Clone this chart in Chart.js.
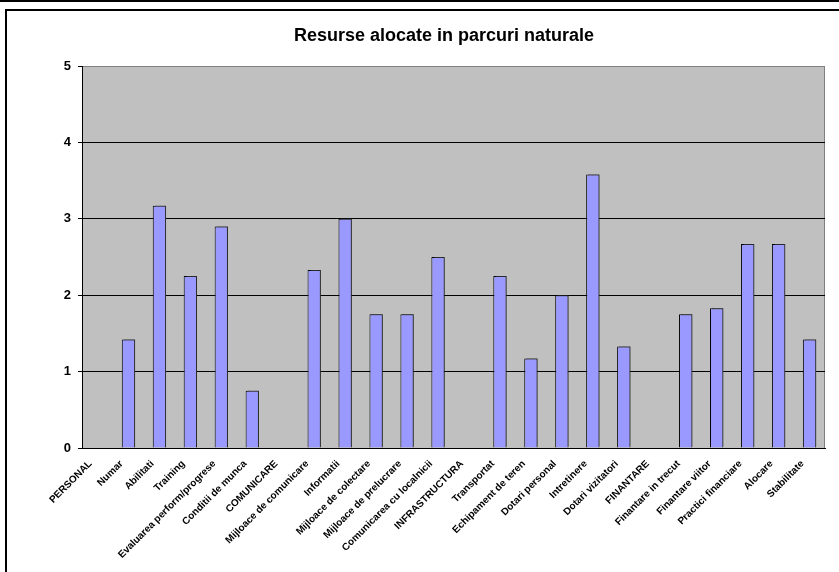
<!DOCTYPE html>
<html>
<head>
<meta charset="utf-8">
<script src="https://cdn.jsdelivr.net/npm/chart.js@4/dist/chart.umd.min.js"></script>
<style>
  html, body { margin: 0; padding: 0; overflow: hidden; background: #fff; }
  #topline { position: absolute; left: 0; top: 0; width: 839px; height: 0; border-top: 2px solid #000; }
  #box { position: absolute; left: 5px; top: 9px; width: 900px; height: 600px; border: 2px solid #000; box-sizing: border-box; }
  #wrap { position: absolute; left: 0; top: 0; width: 889px; height: 572px; }
</style>
</head>
<body>
<div id="topline"></div>
<div id="box"></div>
<div id="wrap"><canvas id="chart"></canvas></div>
<script>
const categories = [
  "PERSONAL", "Numar", "Abilitati", "Training", "Evaluarea perform/progrese",
  "Conditii de munca", "COMUNICARE", "Mijloace de comunicare", "Informatii",
  "Mijloace de colectare", "Mijloace de prelucrare", "Comunicarea cu localnicii",
  "INFRASTRUCTURA", "Transportat", "Echipament de teren", "Dotari personal",
  "Intretinere", "Dotari vizitatori", "FINANTARE", "Finantare in trecut",
  "Finantare viitor", "Practici financiare", "Alocare", "Stabilitate"
];
const values = [
  null, 1.42, 3.17, 2.25, 2.9,
  0.75, null, 2.33, 3.0,
  1.75, 1.75, 2.5,
  null, 2.25, 1.17, 2.0,
  3.58, 1.33, null, 1.75,
  1.83, 2.67, 2.67, 1.42
];
const yTicks = [0, 1, 2, 3, 4, 5];

// fond gri + chenar zona de desen
const plotBg = {
  id: "plotBg",
  beforeDraw(chart) {
    const a = chart.chartArea, ctx = chart.ctx;
    ctx.save();
    ctx.fillStyle = "#C0C0C0";
    ctx.fillRect(a.left, a.top, a.right - a.left, a.bottom - a.top);
    ctx.strokeStyle = "#808080";
    ctx.lineWidth = 1;
    ctx.strokeRect(a.left + 0.5, a.top + 0.5, a.right - a.left - 1, a.bottom - a.top);
    ctx.restore();
  },
  beforeDatasetsDraw(chart) {
    const ctx = chart.ctx;
    ctx.save();
    ctx.shadowColor = "rgba(60,60,60,0.7)";
    ctx.shadowOffsetX = 2;
    ctx.shadowOffsetY = -1;
    ctx.shadowBlur = 0;
  },
  afterDatasetsDraw(chart) {
    chart.ctx.restore();
  }
};

const ctx = document.getElementById("chart").getContext("2d");
new Chart(ctx, {
  type: "bar",
  data: {
    labels: categories,
    datasets: [{
      data: values,
      backgroundColor: "#9999FF",
      borderColor: "#000000",
      borderWidth: 1,
      barPercentage: 0.43,
      categoryPercentage: 1
    }]
  },
  options: {
    responsive: true,
    maintainAspectRatio: false,
    animation: false,
    layout: { padding: { top: 0, right: 64, bottom: 0, left: 63 } },
    plugins: {
      legend: { display: false },
      tooltip: { enabled: false },
      title: {
        display: true,
        text: "Resurse alocate in parcuri naturale",
        color: "#000",
        font: { family: "Liberation Sans, Arial", size: 18, weight: "bold", lineHeight: 1.2 },
        padding: { top: 25, bottom: 19.4 }
      }
    },
    scales: {
      x: {
        grid: { display: false, drawTicks: false },
        border: { color: "#000", width: 1 },
        ticks: {
          color: "#000",
          font: { family: "Liberation Sans, Arial", size: 10, weight: "bold" },
          minRotation: 45,
          maxRotation: 45,
          autoSkip: false,
          padding: 10,
          labelOffset: -7
        },
        afterFit(scale) { scale.height = 124; }
      },
      y: {
        min: 0,
        max: 5,
        afterBuildTicks(scale) { scale.ticks = yTicks.map(v => ({ value: v })); },
        grid: {
          color: c => (c.tick && c.tick.value === 5) ? "rgba(0,0,0,0)" : "#000",
          tickColor: "#000",
          tickLength: 4,
          lineWidth: 1
        },
        border: { color: "#000", width: 1 },
        ticks: {
          color: "#000",
          font: { family: "Liberation Sans, Arial", size: 13, weight: "bold" },
          padding: 7
        },
        afterFit(scale) { scale.width = 19; }
      }
    }
  },
  plugins: [plotBg]
});
</script>
</body>
</html>
